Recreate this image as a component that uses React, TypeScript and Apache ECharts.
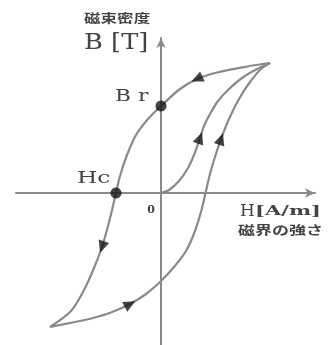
import React, { useEffect, useRef } from "react";
import * as echarts from "echarts";

// Hysteresis loop (H in arbitrary units, B in arbitrary units)
const descendingBranch: [number, number][] = [
  [10.9, 13.0], [8.6, 12.65], [5.6, 12.05], [3.6, 11.4], [1.9, 10.4], [0, 8.7],
  [-1.3, 7.4], [-2.5, 5.8], [-3.4, 3.8], [-4.1, 1.7], [-4.5, 0], [-4.9, -1.7],
  [-5.35, -3.5], [-5.9, -5.4], [-6.7, -7.5], [-7.7, -9.7], [-9.0, -11.8], [-11.1, -13.4],
];
const ascendingBranch: [number, number][] = [
  [-11.1, -13.4], [-8.6, -12.9], [-6.8, -12.5], [-5.0, -11.95], [-3.1, -11.1], [-1.5, -10.1],
  [0, -8.8], [1.3, -7.4], [2.5, -5.8], [3.4, -3.8], [4.05, -1.7], [4.45, 0], [4.9, 1.9],
  [5.4, 3.6], [6.0, 5.4], [6.8, 7.4], [7.8, 9.4], [8.9, 11.1], [10.0, 12.4], [10.9, 13.0],
];
const initialCurve: [number, number][] = [
  [0, 0], [0.8, 0.3], [1.8, 1.2], [2.7, 2.5], [3.3, 3.8], [3.8, 5.2], [4.3, 6.7],
  [4.9, 7.9], [5.7, 9.2], [6.7, 10.3], [8.1, 11.5], [9.6, 12.4], [10.9, 13.0],
];
const markedPoints: [number, number][] = [[0, 8.7], [-4.5, 0]];
const arrowPoints: [number, number][] = [[3.6, 11.4], [-5.9, -5.4], [-3.1, -11.1], [3.9, 5.5], [6.0, 5.4]];
const arrowAngles: number[] = [115, 162, -62, -20, -19];

const H_MIN = -14.5, H_MAX = 15.4, B_MIN = -15.2, B_MAX = 15.5;

const serif = '"DejaVu Serif", "Liberation Serif", serif';
const cjk = '"Noto Sans CJK JP", sans-serif';
const txtColor = "#444444";

export default function App() {
  const ref = useRef<HTMLDivElement>(null);
  useEffect(() => {
    document.body.style.margin = "0";
    const chart = echarts.init(ref.current!, undefined, { renderer: "svg" });
    const lineColor = "#8a8a8a";
    const axisCommon = {
      type: "value" as const,
      axisLine: {
        onZero: true,
        symbol: ["none", "arrow"],
        symbolSize: [7, 10],
        lineStyle: { color: lineColor, width: 2 },
      },
      axisTick: { show: false },
      axisLabel: { show: false },
      splitLine: { show: false },
    };
    const curve = (name: string, data: [number, number][]) => ({
      name,
      type: "line",
      data,
      smooth: 0.3,
      symbol: "none",
      lineStyle: { color: lineColor, width: 2.2 },
      z: 2,
    });
    const text = (t: string, x: number, y: number, font: string, scaleX = 1, align = "left") => ({
      type: "text",
      x,
      y,
      scaleX,
      style: { text: t, font, fill: txtColor, textAlign: align, textVerticalAlign: "middle" },
    });
    chart.setOption({
      animation: false,
      grid: { left: 16, right: 17, top: 38, bottom: 0 },
      xAxis: { ...axisCommon, min: H_MIN, max: H_MAX },
      yAxis: { ...axisCommon, min: B_MIN, max: B_MAX },
      series: [
        curve("descending", descendingBranch),
        curve("ascending", ascendingBranch),
        curve("initial", initialCurve),
        {
          name: "points",
          type: "scatter",
          data: markedPoints,
          symbol: "circle",
          symbolSize: 11,
          itemStyle: { color: "#151515" },
          z: 4,
        },
        {
          name: "arrows",
          type: "scatter",
          symbol: "triangle",
          symbolSize: [11, 12],
          itemStyle: { color: "#151515" },
          data: arrowPoints.map((p, i) => ({ value: p, symbolRotate: arrowAngles[i] })),
          z: 4,
        },
      ],
      graphic: [
        text("磁束密度", 84, 18, `bold 12px ${cjk}`, 1.38),
        text("B [T]", 84, 42, `22px ${serif}`, 1.17),
        text("B r", 115, 96, `16px ${serif}`, 1.36),
        text("Hc", 77, 177, `17px ${serif}`, 1.37),
        text("0", 151, 209, `bold 11px ${serif}`, 1, "center"),
        text("H", 240, 210, `17px ${serif}`),
        text("[A/m]", 255, 211, `bold 12px ${serif}`, 1.75),
        text("磁界の強さ", 238, 230, `bold 12px ${cjk}`, 1.42),
      ],
    });
    return () => chart.dispose();
  }, []);
  return <div ref={ref} style={{ position: "fixed", left: 0, top: 0, width: 332, height: 345 }} />;
}
